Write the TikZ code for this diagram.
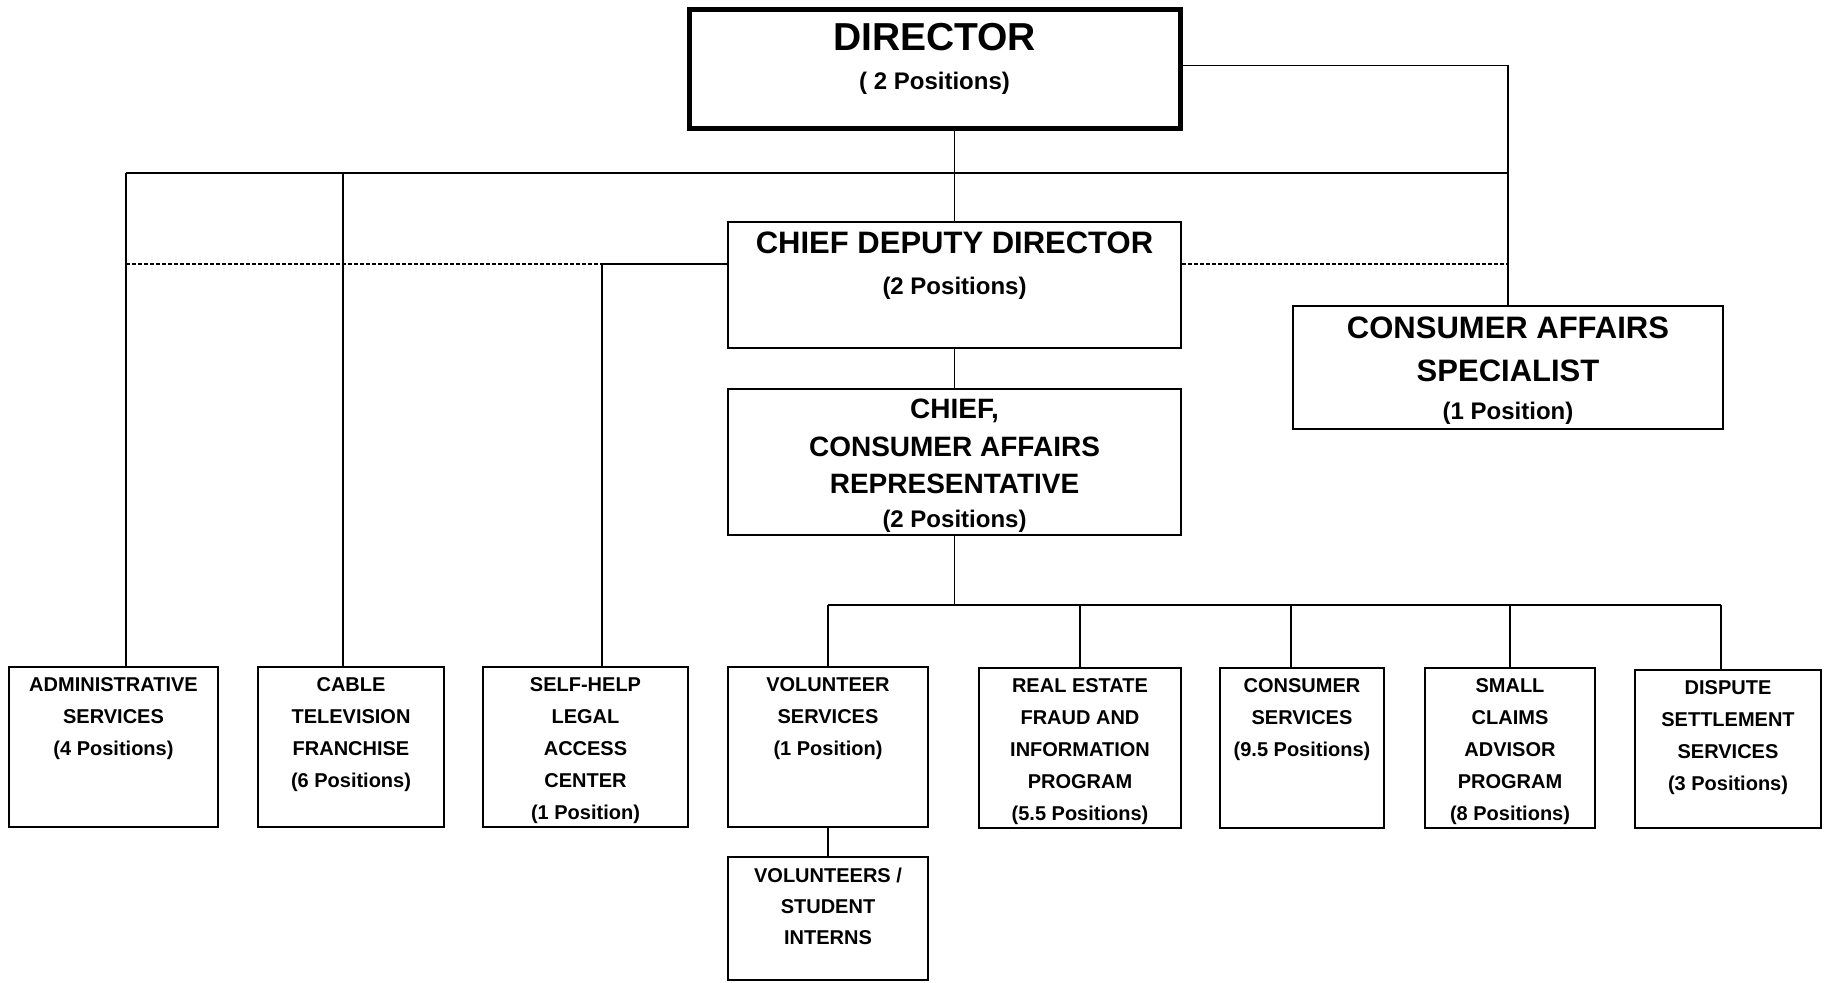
\documentclass[tikz,border=0pt]{standalone}
\usepackage{fontspec}
\setmainfont{Liberation Sans}
\usetikzlibrary{positioning}

\tikzset{
  unit/.style={draw, line width=0.75pt, inner sep=0pt},
  headunit/.style={unit, line width=2.5pt},
  lbl/.style={align=center, inner sep=0pt, font=\bfseries\fontsize{10}{16}\selectfont},
  link/.style={line width=0.75pt},
  staff/.style={line width=0.75pt, dash pattern=on 2pt off 1pt},
}

\begin{document}
\begin{tikzpicture}[x=1pt,y=1pt]
    \useasboundingbox (0,0) rectangle (912,491);
    % Director and deputies
    \node[headunit, minimum width=245.5pt, minimum height=59.5pt] (dir) at (467.25,456.25) {};
    \node[below=7.5pt of dir.north, lbl, font=\bfseries\fontsize{19.5}{19.5}\selectfont] (dir-t)
        {DIRECTOR\\{\fontsize{12}{12}\selectfont ( 2 Positions)}};
    \node[unit, minimum width=226.5pt, minimum height=63pt] (dep) at (477.25,348.5) {};
    \node[below=5pt of dep.north, lbl, font=\bfseries\fontsize{15.5}{20.8}\selectfont] (dep-t)
        {CHIEF DEPUTY DIRECTOR\\{\fontsize{12}{12}\selectfont (2 Positions)}};
    \node[unit, minimum width=226.5pt, minimum height=73pt] (car) at (477.25,260) {};
    \node[below=5.25pt of car.north, lbl, font=\bfseries\fontsize{14}{18.75}\selectfont] (car-t)
        {CHIEF,\\CONSUMER AFFAIRS\\REPRESENTATIVE\\[-2pt]{\fontsize{12}{12}\selectfont (2 Positions)}};
    \node[unit, minimum width=215pt, minimum height=61.5pt] (spec) at (754,307.25) {};
    \node[below=5.5pt of spec.north, lbl, font=\bfseries\fontsize{15.5}{21.5}\selectfont] (spec-t)
        {CONSUMER AFFAIRS\\SPECIALIST\\[-2.2pt]{\fontsize{12}{12}\selectfont (1 Position)}};

    % Programs
    \node[unit, minimum width=104.5pt, minimum height=80pt] (admin) at (56.75,117.5) {};
    \node[below=5.4pt of admin.north, lbl] (admin-t) {ADMINISTRATIVE\\SERVICES\\(4 Positions)};
    \node[unit, minimum width=93pt, minimum height=80pt] (cable) at (175.5,117.5) {};
    \node[below=5.4pt of cable.north, lbl] (cable-t) {CABLE\\TELEVISION\\FRANCHISE\\(6 Positions)};
    \node[unit, minimum width=102.5pt, minimum height=80pt] (self) at (292.75,117.5) {};
    \node[below=5.4pt of self.north, lbl] (self-t) {SELF-HELP\\LEGAL\\ACCESS\\CENTER\\(1 Position)};
    \node[unit, minimum width=100pt, minimum height=80pt] (vol) at (414,117.5) {};
    \node[below=5.4pt of vol.north, lbl] (vol-t) {VOLUNTEER\\SERVICES\\(1 Position)};
    \node[unit, minimum width=101pt, minimum height=80pt] (fraud) at (540,117) {};
    \node[below=5.4pt of fraud.north, lbl] (fraud-t) {REAL ESTATE\\FRAUD AND\\INFORMATION\\PROGRAM\\(5.5 Positions)};
    \node[unit, minimum width=82pt, minimum height=80pt] (cons) at (651,117) {};
    \node[below=5.4pt of cons.north, lbl] (cons-t) {CONSUMER\\SERVICES\\(9.5 Positions)};
    \node[unit, minimum width=85pt, minimum height=80pt] (claims) at (755,117) {};
    \node[below=5.4pt of claims.north, lbl] (claims-t) {SMALL\\CLAIMS\\ADVISOR\\PROGRAM\\(8 Positions)};
    \node[unit, minimum width=93pt, minimum height=79pt] (disp) at (864,116.5) {};
    \node[below=5.4pt of disp.north, lbl] (disp-t) {DISPUTE\\SETTLEMENT\\SERVICES\\(3 Positions)};
    \node[unit, minimum width=100pt, minimum height=61.5pt] (intern) at (414,31.75) {};
    \node[below=5.9pt of intern.north, lbl, font=\bfseries\fontsize{10}{15.5}\selectfont] (intern-t)
        {VOLUNTEERS /\\STUDENT\\INTERNS};

    % Lines from the director
    \coordinate (bus-l) at (63,404.5);
    \coordinate (bus-c) at (171.5,404.5);
    \draw[link] ([yshift=2pt]dir.east) -| (spec.north);
    \draw[link] (bus-l) -- (spec.north |- bus-l);
    \draw[link] (dep.north) -- (dep.north |- dir.south);
    \draw[link] (bus-l) -- (bus-l |- admin.north);
    \draw[link] (bus-c) -- (bus-c |- cable.north);

    % Staff lines from the chief deputy
    \coordinate (staff-l) at (63,359);
    \coordinate (staff-m) at (301,359);
    \draw[staff] (staff-l) -- (staff-m);
    \draw[link] (staff-m) -- (staff-m -| dep.west);
    \draw[link] (staff-m) -- (staff-m |- self.north);
    \draw[staff] (dep.east |- staff-m) -- (spec.north |- staff-m);

    % Lines under the chief representative
    \coordinate (low) at (477.25,188.5);
    \draw[link] (dep.south) -- (car.north);
    \draw[link] (car.south) -- (low);
    \draw[link] (vol.north |- low) -- ([xshift=-3.5pt]disp.north |- low);
    \draw[link] (vol.north) -- (vol.north |- low);
    \draw[link] (fraud.north) -- (fraud.north |- low);
    \draw[link] ([xshift=-5.5pt]cons.north) -- ([xshift=-5.5pt]cons.north |- low);
    \draw[link] (claims.north) -- (claims.north |- low);
    \draw[link] ([xshift=-3.5pt]disp.north) -- ([xshift=-3.5pt]disp.north |- low);
    \draw[link] (vol.south) -- (intern.north);
\end{tikzpicture}
\end{document}
